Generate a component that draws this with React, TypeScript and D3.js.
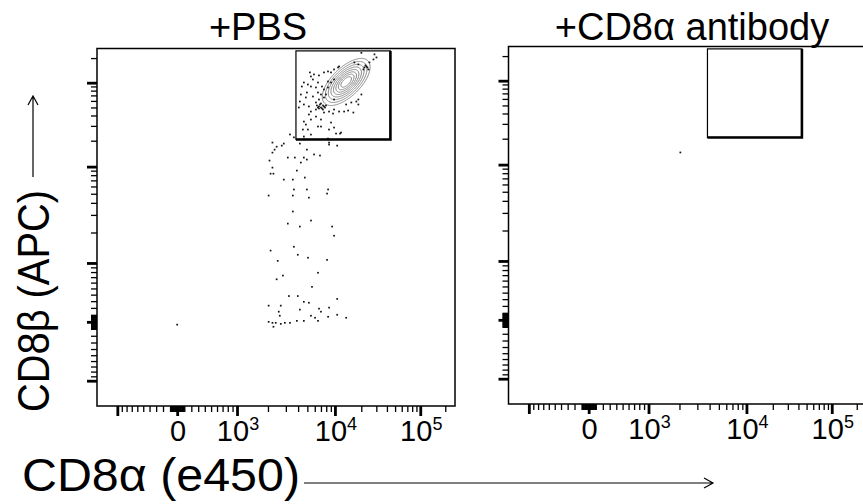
import { useEffect, useRef } from "react";
import * as d3 from "d3";

const WIDTH = 863;
const HEIGHT = 504;

// logicle-like display used by the cytometer software
const LOGICLE_P = 3.5;
const LOGICLE_K = 111.5;

const xDomain = [-1580, 262144];
const yDomain = [-1780, 262144];

const majorTicks = [-1000, 0, 1000, 10000, 100000];
const tickDecades = [10, 100, 1000, 10000, 100000];
const tickMultipliers = [1, 2, 3, 4, 5, 6, 7, 8, 9];
const tickLabels = [
  { value: 0, base: "0", exp: "" },
  { value: 1000, base: "10", exp: "3" },
  { value: 10000, base: "10", exp: "4" },
  { value: 100000, base: "10", exp: "5" },
];

const panelTitles = ["+PBS", "+CD8\u03b1 antibody"];
const xTitle = "CD8\u03b1 (e450)";
const yTitle = "CD8\u03b2 (APC)";

// CD8a+ CD8b+ gate, same on both plots
const gateX = [3800, 44000];
const gateY = [20700, 245000];

// events outside the densest region, [CD8a, CD8b]
const pbsEvents = [
  [2030, 4780], [2120, 1330], [2490, 1050], [2800, 730], [2430, 660], [2030, 233],
  [2670, 233], [2550, 145], [2610, 87], [2030, 0], [2210, -14], [2260, -70],
  [2380, -14], [2670, -29], [2930, -14], [3300, -14], [3880, 14], [4590, 14],
  [5460, 87], [6040, 58], [6500, 14], [6670, 189], [7000, 145], [8600, 204],
  [8390, 72], [10600, 101], [13400, 58], [10600, 334], [4170, 175], [3220, 378],
  [3970, 378], [4590, 290], [5190, 276], [5600, 527], [6500, 786], [8170, 1075],
  [5080, 1130], [3970, 1210], [3620, 1450], [3140, 2450], [4170, 2290], [5460, 2630],
  [9300, 2290], [9780, 1860], [3530, 3250], [5190, 4540], [3530, 4780], [3620, 5560],
  [4940, 5560], [8390, 5560], [8170, 5020], [2860, 7140], [3530, 7140], [4700, 7520],
  [3880, 9010], [2210, 9740], [2120, 8320], [2260, 8320], [4270, 11130], [3700, 12700],
  [3140, 12700], [4590, 12700], [4940, 12039], [5890, 13800], [6830, 13400], [2070, 11730],
  [2210, 14500], [2320, 15700], [2430, 17000], [2210, 19000], [2730, 17500], [2860, 18500],
  [3300, 23700], [3620, 21900], [4170, 18500], [4590, 20700], [4940, 15700], [8600, 19000],
  [8600, 18000], [10600, 17500], [0, -40],
  [5320, 133400], [5454, 119100], [5877, 126100], [6659, 122600], [7556, 133400], [8368, 137200],
  [9041, 133400], [9770, 145100], [4594, 100500], [5064, 95000], [4376, 89800], [5454, 89800],
  [6493, 100500], [7184, 89800], [7556, 82600], [8368, 87400], [4271, 71800], [4942, 75900],
  [5732, 67900], [6493, 75900], [4170, 59000], [4594, 54300], [5189, 51400], [6177, 57400],
  [4073, 49900], [5454, 44600], [5189, 41100], [4594, 33800], [4823, 31100], [4485, 27130],
  [5064, 27130], [5454, 35750], [6177, 38800], [7005, 35750], [7556, 43400], [8587, 44600],
  [9520, 42200], [9770, 47200], [11130, 44600], [12690, 44600], [14110, 45900], [16190, 43400],
  [7005, 49900], [6659, 51400], [7370, 52800], [7556, 51400], [6493, 49900], [6177, 47200],
  [9041, 32900], [9770, 28660], [11726, 24970], [8587, 27130], [7005, 29460], [6493, 29460],
  [18500, 62400], [17540, 59000], [20060, 71800], [21750, 153600], [22950, 157900], [24230, 145100],
  [24900, 176800], [27750, 192500], [28520, 222000], [30100, 203700], [20060, 232000], [16630, 176800],
  [18500, 167100], [10844, 153600], [11130, 157900], [9770, 109400], [9041, 100500], [8368, 103400],
  [7948, 71800], [7556, 66000], [9770, 62400], [13380, 54300], [15350, 57400], [18500, 54300],
  [4594, 22400], [5454, 23640], [10293, 24290], [8368, 21200], [11424, 24290],
  [6830, 54300], [7184, 48600], [7750, 49900], [7005, 55800], [7370, 47200], [6659, 48600],
  [7948, 52800], [6333, 52800], [21180, 145100], [22340, 162400], [23580, 153600],
  [5732, 109400], [6177, 87400], [7005, 71800], [4823, 66000], [6659, 62400],
];

const antibodyEvents = [[2040, 13800]];

// main CD8a+ CD8b+ population, drawn as density contours
const pbsCluster = { x: 13400, y: 102000, sdMajor: 0.14, sdMinor: 0.066, angle: 45 };
const contourLevels = [0.03, 0.07, 0.14, 0.24, 0.37, 0.52, 0.68, 0.84];

// value -> display decades (inverse of the biexponential)
function biexZ(v: number) {
  const P2 = LOGICLE_P * LOGICLE_P;
  const f = (z: number) => LOGICLE_K * (Math.pow(10, z) - P2 * Math.pow(10, -z / LOGICLE_P) + P2 - 1);
  const a = Math.abs(v);
  let lo = 0, hi = 6;
  for (let i = 0; i < 60; i++) {
    const mid = (lo + hi) / 2;
    if (f(mid) < a) lo = mid; else hi = mid;
  }
  return Math.sign(v) * (lo + hi) / 2;
}

function biexScale(domain: number[], range: number[]): any {
  const lin = d3.scaleLinear().domain(domain.map(biexZ)).range(range);
  const s: any = (v: number) => lin(biexZ(v));
  s.lin = lin;
  s.copy = () => biexScale(domain, range);
  s.range = () => lin.range();
  s.domain = () => domain;
  return s;
}

const PANEL_W = 358;
const PANEL_H = 357.5;
const panels = [
  { left: 97, top: 48.5, title: panelTitles[0], titleX: 258, events: pbsEvents, cluster: pbsCluster },
  { left: 508.5, top: 46.5, title: panelTitles[1], titleX: 692, events: antibodyEvents, cluster: null },
];

const App = () => {
  const svgRef = useRef<SVGSVGElement>(null);

  useEffect(() => {
    const svg = d3.select(svgRef.current);
    svg.selectAll("*").remove();

    const allTicks: number[] = [0];
    tickDecades.forEach((d) => tickMultipliers.forEach((m) => {
      allTicks.push(m * d);
      allTicks.push(-m * d);
    }));
    const minorTicks = allTicks.filter((v) => !majorTicks.includes(v) && v >= -1000 && v <= 262144);

    panels.forEach((p) => {
      const x = biexScale(xDomain, [0, PANEL_W]);
      const y = biexScale(yDomain, [PANEL_H, 0]);

      const g = svg.append("g").attr("transform", `translate(${p.left},${p.top})`);

      svg.append("text")
        .attr("x", p.titleX).attr("y", 40)
        .attr("text-anchor", "middle")
        .attr("font-size", 38)
        .text(p.title);

      // axes
      const xMinor = g.append("g").attr("transform", `translate(0,${PANEL_H})`)
        .call(d3.axisBottom(x).tickValues(minorTicks).tickSize(6).tickFormat(() => ""));
      const xMajor = g.append("g").attr("transform", `translate(0,${PANEL_H})`)
        .call(d3.axisBottom(x).tickValues(majorTicks).tickSize(10).tickFormat(() => ""));
      const yMinor = g.append("g")
        .call(d3.axisLeft(y).tickValues(minorTicks).tickSize(6).tickFormat(() => ""));
      const yMajor = g.append("g")
        .call(d3.axisLeft(y).tickValues(majorTicks).tickSize(10).tickFormat(() => ""));
      [xMinor, xMajor, yMinor, yMajor].forEach((a) => a.select(".domain").remove());
      [xMinor, yMinor].forEach((a) => a.selectAll("line").attr("stroke-width", 1.3));
      [xMajor, yMajor].forEach((a) => a.selectAll("line").attr("stroke-width", 2.8));

      const lab = g.append("g").attr("font-size", 29).attr("text-anchor", "middle");
      tickLabels.forEach((t) => {
        const tx = lab.append("text").attr("x", x(t.value) + 1).attr("y", PANEL_H + 35);
        tx.append("tspan").text(t.base);
        if (t.exp) tx.append("tspan").attr("font-size", 18).attr("dy", -11).text(t.exp);
      });

      const clipId = "clip" + p.left;
      g.append("clipPath").attr("id", clipId)
        .append("rect").attr("width", PANEL_W).attr("height", PANEL_H);
      const plot = g.append("g").attr("clip-path", `url(#${clipId})`);

      // contours
      if (p.cluster) {
        const c = p.cluster;
        const cx = biexZ(c.x), cy = biexZ(c.y);
        const ang = (c.angle * Math.PI) / 180;
        const n = Math.round(PANEL_W), m = Math.round(PANEL_H);
        const values = new Float64Array(n * m);
        for (let j = 0; j < m; j++) {
          const zy = y.lin.invert(j + 0.5) - cy;
          for (let i = 0; i < n; i++) {
            const zx = x.lin.invert(i + 0.5) - cx;
            const a = zx * Math.cos(ang) + zy * Math.sin(ang);
            const b = -zx * Math.sin(ang) + zy * Math.cos(ang);
            values[i + j * n] = Math.exp(-0.5 * ((a * a) / (c.sdMajor * c.sdMajor) + (b * b) / (c.sdMinor * c.sdMinor)));
          }
        }
        const contours = d3.contours().size([n, m]).thresholds(contourLevels)(Array.from(values));
        plot.append("g").selectAll("path").data(contours).join("path")
          .attr("d", d3.geoPath())
          .attr("fill", "none")
          .attr("stroke", "#8a8a8a")
          .attr("stroke-width", 1);
      }

      plot.append("g").selectAll("rect").data(p.events).join("rect")
        .attr("x", (d) => x(d[0]) - 0.85)
        .attr("y", (d) => y(d[1]) - 0.85)
        .attr("width", 1.7).attr("height", 1.7)
        .attr("fill", "#111");

      // gate
      const gx0 = x(gateX[0]), gx1 = x(gateX[1]);
      const gy0 = y(gateY[1]), gy1 = y(gateY[0]);
      plot.append("rect")
        .attr("x", gx0).attr("y", gy0).attr("width", gx1 - gx0).attr("height", gy1 - gy0)
        .attr("fill", "none").attr("stroke", "#000").attr("stroke-width", 1.2);
      plot.append("path")
        .attr("d", `M${gx1},${gy0}V${gy1}H${gx0}`)
        .attr("fill", "none").attr("stroke", "#000").attr("stroke-width", 2.6);

      g.append("rect").attr("width", PANEL_W).attr("height", PANEL_H)
        .attr("fill", "none").attr("stroke", "#000").attr("stroke-width", 1.5);
    });

    // axis titles with arrows
    svg.append("text").attr("x", 22).attr("y", 491).attr("font-size", 47)
      .attr("textLength", 278).attr("lengthAdjust", "spacingAndGlyphs").text(xTitle);
    svg.append("path").attr("d", "M304,483H713M704,478L713,483L704,488")
      .attr("fill", "none").attr("stroke", "#000").attr("stroke-width", 1.2);

    svg.append("text")
      .attr("transform", "translate(49,412) rotate(-90)")
      .attr("font-size", 44).attr("textLength", 222).attr("lengthAdjust", "spacingAndGlyphs")
      .text(yTitle);
    svg.append("path").attr("d", "M33,177V96M28,105L33,96L38,105")
      .attr("fill", "none").attr("stroke", "#000").attr("stroke-width", 1.2);
  }, []);

  return (
    <svg
      ref={svgRef}
      width={WIDTH}
      height={HEIGHT}
      style={{ position: "absolute", left: 0, top: 0, background: "#fff", fontFamily: "'Liberation Sans', Arial, Helvetica, sans-serif" }}
    />
  );
};

export default App;
